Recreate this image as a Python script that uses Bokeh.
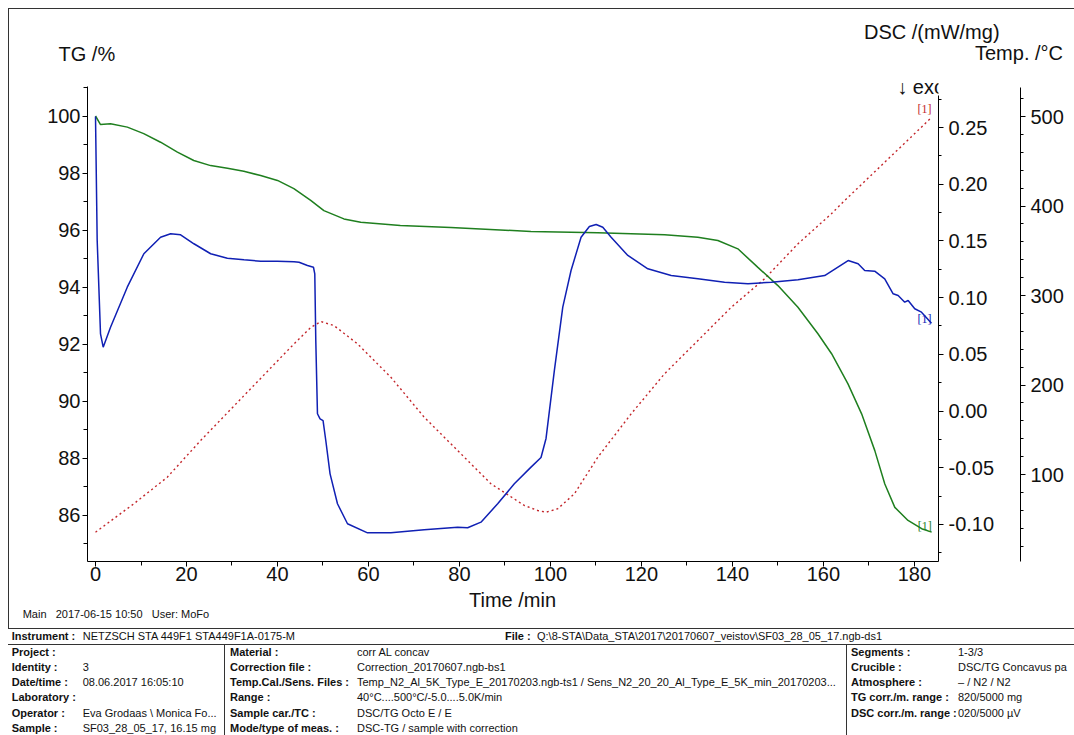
from bokeh.plotting import figure
from bokeh.models import (Range1d, LinearAxis, SingleIntervalTicker, PrintfTickFormatter,
                          Label, Div, Spacer)
from bokeh.layouts import column, row
from bokeh.embed import file_html
from bokeh.resources import INLINE
from bokeh.core.properties import value

# ---------------- data ----------------
# TG (green), time /min vs TG /%
tg_time = [0.0, 1.1, 3.3, 7.0, 10.6, 14.3, 18.0, 21.6, 25.3, 29.0, 32.6, 36.3, 40.0, 43.6,
           47.3, 50.2, 54.6, 58.3, 67.0, 78.1, 95.7, 110.4, 125.1, 132.4, 136.8, 141.2,
           145.6, 150.0, 154.4, 158.8, 161.8, 165.4, 168.4, 171.3, 173.5, 175.7, 178.6,
           181.6, 183.8]
tg_val = [100.0, 99.70, 99.73, 99.61, 99.38, 99.08, 98.73, 98.44, 98.26, 98.17, 98.06, 97.91,
          97.74, 97.45, 97.04, 96.68, 96.39, 96.27, 96.16, 96.09, 95.95, 95.90, 95.83, 95.75,
          95.63, 95.34, 94.69, 94.05, 93.29, 92.36, 91.66, 90.60, 89.55, 88.26, 87.09, 86.27,
          85.81, 85.52, 85.40]

# DSC (blue), time /min vs DSC /(mW/mg)
dsc_time = [0.0, 0.37, 1.10, 1.69, 3.30, 6.98, 10.63, 14.30, 16.51, 18.71, 21.63, 25.31,
            28.98, 32.64, 36.31, 39.99, 43.64, 44.74, 46.59, 47.91, 48.20, 48.42, 48.79,
            49.36, 50.02, 50.62, 51.56, 53.19, 55.39, 59.79, 64.92, 72.25, 79.60, 81.80,
            84.73, 88.40, 92.06, 95.73, 97.93, 99.03, 100.86, 102.71, 104.53, 106.73,
            108.56, 110.04, 111.51, 113.34, 117.01, 121.41, 126.54, 132.42, 138.27, 143.42,
            148.55, 154.42, 160.28, 165.43, 167.63, 169.08, 171.28, 173.48, 175.33, 176.43,
            177.88, 178.63, 180.08, 181.56, 183.76]
dsc_val = [0.2597, 0.1504, 0.0681, 0.0563, 0.0739, 0.1092, 0.1387, 0.1533, 0.1563, 0.1554,
           0.1475, 0.1387, 0.1348, 0.1334, 0.1321, 0.1321, 0.1316, 0.1312, 0.1283, 0.1268,
           0.1210, 0.0622, -0.0024, -0.0069, -0.0084, -0.0260, -0.0554, -0.0818, -0.0994,
           -0.1074, -0.1074, -0.1047, -0.1024, -0.1029, -0.0980, -0.0818, -0.0642, -0.0495,
           -0.0410, -0.0242, 0.0357, 0.0916, 0.1239, 0.1533, 0.1627, 0.1645, 0.1621, 0.1533,
           0.1372, 0.1254, 0.1195, 0.1166, 0.1136, 0.1122, 0.1136, 0.1157, 0.1195, 0.1327,
           0.1298, 0.1239, 0.1233, 0.1166, 0.1034, 0.1019, 0.0960, 0.0975, 0.0902, 0.0872,
           0.0775]

# Temperature (red dotted), time /min vs Temp. /°C
temp_time = [0.0, 8.43, 15.78, 23.11, 42.91, 47.3, 49.52, 52.4, 57.59, 64.92, 72.25, 79.60,
             86.93, 94.26, 97.2, 99.03, 101.6, 105.26, 110.41, 117.74, 125.07, 132.42, 139.75,
             147.07, 154.42, 161.75, 164.68, 183.76]
temp_val = [35.5, 67.3, 97.0, 138.0, 242.2, 264.2, 270.9, 266.5, 246.0, 208.7, 164.0, 126.8,
            89.6, 65.4, 59.8, 57.9, 61.7, 78.4, 119.3, 167.8, 212.5, 249.7, 286.9, 318.7,
            357.8, 391.3, 406.1, 498.9]

# texts
x_title = "Time /min"
tg_title = "TG /%"
dsc_title = "DSC /(mW/mg)"
temp_title = "Temp. /°C"
exo_text = "↓ exo"
curve_tag = "[1]"
footer_text = "Main&nbsp;&nbsp; 2017-06-15 10:50&nbsp;&nbsp; User: MoFo"

info_top = [("Instrument :", "NETZSCH STA 449F1 STA449F1A-0175-M"),
            ("File :", "Q:\\8-STA\\Data_STA\\2017\\20170607_veistov\\SF03_28_05_17.ngb-ds1")]
info_col1 = [("Project :", ""), ("Identity :", "3"), ("Date/time :", "08.06.2017 16:05:10"),
             ("Laboratory :", ""), ("Operator :", "Eva Grodaas \\ Monica Fo..."),
             ("Sample :", "SF03_28_05_17, 16.15 mg")]
info_col2 = [("Material :", "corr AL concav"),
             ("Correction file :", "Correction_20170607.ngb-bs1"),
             ("Temp.Cal./Sens. Files :", "Temp_N2_Al_5K_Type_E_20170203.ngb-ts1 / Sens_N2_20_20_Al_Type_E_5K_min_20170203..."),
             ("Range :", "40°C....500°C/-5.0....5.0K/min"),
             ("Sample car./TC :", "DSC/TG Octo E / E"),
             ("Mode/type of meas. :", "DSC-TG / sample with correction")]
info_col3 = [("Segments :", "1-3/3"), ("Crucible :", "DSC/TG Concavus pa"),
             ("Atmosphere :", "– / N2 / N2"), ("TG corr./m. range :", "820/5000 mg"),
             ("DSC corr./m. range :", "020/5000 µV")]

# ---------------- figure ----------------
FONT = "Liberation Sans"
LINE = "#333333"
X0, X1 = -1.76, 185.3
TG0, TG1 = 84.37, 101.456      # frame range (axis drawn only up to 101)
TOP_H = 74                     # height of title band above the frame
FIG_W, FIG_H = 1065, 516
BOT_H = 735 - TOP_H - FIG_H

p = figure(width=FIG_W, height=FIG_H, x_range=Range1d(X0, X1), y_range=Range1d(TG0, TG1),
           output_backend="svg", toolbar_location=None,
           min_border_left=78, min_border_top=0, min_border_right=136, min_border_bottom=29)
p.extra_y_ranges = {"dsc": Range1d(-0.1327, 0.29676), "temp": Range1d(2.8, 546.93)}
p.outline_line_color = None
p.grid.visible = False
p.background_fill_color = "white"
p.border_fill_color = "white"


def style_axis(ax, standoff=5):
    ax.axis_line_color = "black"
    ax.axis_line_width = 1
    ax.major_tick_out = 5
    ax.major_tick_in = 0
    ax.minor_tick_out = 3
    ax.minor_tick_in = 0
    ax.major_tick_line_color = "black"
    ax.minor_tick_line_color = "black"
    ax.major_label_text_font = FONT
    ax.major_label_text_font_size = "20px"
    ax.major_label_text_color = "#111111"
    ax.major_label_standoff = standoff


xa = p.xaxis[0]
xa.ticker = SingleIntervalTicker(interval=20, num_minor_ticks=2)
style_axis(xa, 0)
xa.minor_tick_out = 4

ya = p.yaxis[0]
ya.ticker = SingleIntervalTicker(interval=2, num_minor_ticks=2)
ya.bounds = (TG0, 101.02)
style_axis(ya, 2)
ya.minor_tick_out = 4

dsc_axis = LinearAxis(y_range_name="dsc",
                      ticker=SingleIntervalTicker(interval=0.05, num_minor_ticks=2),
                      formatter=PrintfTickFormatter(format="%.2f"),
                      bounds=(-0.1327, 0.278))
style_axis(dsc_axis, 5)
dsc_axis.axis_label = " "
dsc_axis.axis_label_text_font_size = "1px"
dsc_axis.axis_label_standoff = 19
p.add_layout(dsc_axis, "right")

temp_axis = LinearAxis(y_range_name="temp",
                       ticker=SingleIntervalTicker(interval=100, num_minor_ticks=5),
                       bounds=(2.8, 532.4))
style_axis(temp_axis, 5)
p.add_layout(temp_axis, "right")

# curves
p.line(temp_time, temp_val, y_range_name="temp", line_color="#c3262b", line_width=1.4,
       line_dash="2 3")
p.line(tg_time, tg_val, line_color="#1f7f1f", line_width=1.5)
p.line(dsc_time, dsc_val, y_range_name="dsc", line_color="#1020b4", line_width=1.5)

# curve end tags
p.text(x=[temp_time[-1]], y=[temp_val[-1]], text=[curve_tag], y_range_name="temp",
       text_align="right", text_baseline="bottom", text_font=value("Liberation Serif"),
       text_font_size="12px", text_color="#c3262b", y_offset=-1)
p.text(x=[dsc_time[-1]], y=[dsc_val[-1]], text=[curve_tag], y_range_name="dsc",
       text_align="right", text_baseline="middle", text_font=value("Liberation Serif"),
       text_font_size="12px", text_color="#1020b4", y_offset=-4)
p.text(x=[tg_time[-1]], y=[tg_val[-1]], text=[curve_tag],
       text_align="right", text_baseline="bottom", text_font=value("Liberation Serif"),
       text_font_size="12px", text_color="#1f7f1f", y_offset=1)

# "↓ exo" sits at the top right corner of the plot area (clipped by the frame like the original)
p.add_layout(Label(x=X1, y=TG1, x_offset=-41.3, y_offset=-12, text=exo_text, text_font=FONT,
                   text_font_size="20px", text_color="#111111", text_baseline="middle"))


# ---------------- html helpers ----------------
def box(x, y, w, h):
    return (f'<div style="position:absolute;left:{x}px;top:{y}px;width:{w}px;height:{h}px;'
            f'background:{LINE}"></div>')


def txt(x, yc, t, size=11, bold=False, lh=13, extra=""):
    w = "bold" if bold else "normal"
    return (f'<div style="position:absolute;left:{x}px;top:{yc - lh / 2}px;line-height:{lh}px;'
            f'font-size:{size}px;white-space:nowrap;font-weight:{w};{extra}">{t}</div>')


def wrap(parts, w, h):
    return (f'<div style="position:relative;width:{w}px;height:{h}px;overflow:hidden;'
            f'font-family:\'{FONT}\',Arial,sans-serif;color:#111">' + "".join(parts) + '</div>')


# top band with the axis titles (page y 0..74)
top_parts = [box(8, 8, 1066, 1), box(8, 8, 1, TOP_H - 8),
             txt(864, 32, dsc_title, size=20, lh=23),
             txt(58.5, 54, tg_title, size=20, lh=23),
             txt(975, 53.5, temp_title, size=20, lh=23)]
top_div = Div(text=wrap(top_parts, 1074, TOP_H), width=1074, height=TOP_H,
              margin=(0, 0, 0, 0), styles={"overflow": "hidden"})

left_line = Div(text="", width=1, height=FIG_H, margin=(0, 0, 0, 0),
                styles={"background-color": LINE})

# bottom band (page y starts at TOP_H + FIG_H = 590)
Y = TOP_H + FIG_H
bot = [box(8, 0, 1, 628 - Y),
       txt(412.5, 600 - Y, x_title, size=20, lh=20, extra="width:200px;text-align:center"),
       txt(22.7, 614 - Y, footer_text),
       box(8, 628 - Y, 1066, 1), box(8, 644 - Y, 1066, 1),
       box(224, 644 - Y, 1, 200), box(846, 644 - Y, 1, 200),
       txt(11.7, 636 - Y, info_top[0][0], bold=True), txt(82.7, 636 - Y, info_top[0][1]),
       txt(505, 636 - Y, info_top[1][0], bold=True), txt(537, 636 - Y, info_top[1][1])]
for cols, lx, vx in ((info_col1, 11.7, 82.7), (info_col2, 230, 357), (info_col3, 851, 958)):
    for i, (lab, val) in enumerate(cols):
        yc = 652.3 + 15.2 * i - Y
        bot.append(txt(lx, yc, lab, bold=True))
        bot.append(txt(vx, yc, val))
bot_div = Div(text=wrap(bot, 1074, BOT_H), width=1074, height=BOT_H,
              margin=(0, 0, 0, 0), styles={"overflow": "hidden"})

layout = column(top_div,
                row(Spacer(width=8, height=FIG_H, margin=(0, 0, 0, 0)), left_line, p, spacing=0),
                bot_div, spacing=0)
open("out.html", "w").write(file_html(layout, INLINE))
